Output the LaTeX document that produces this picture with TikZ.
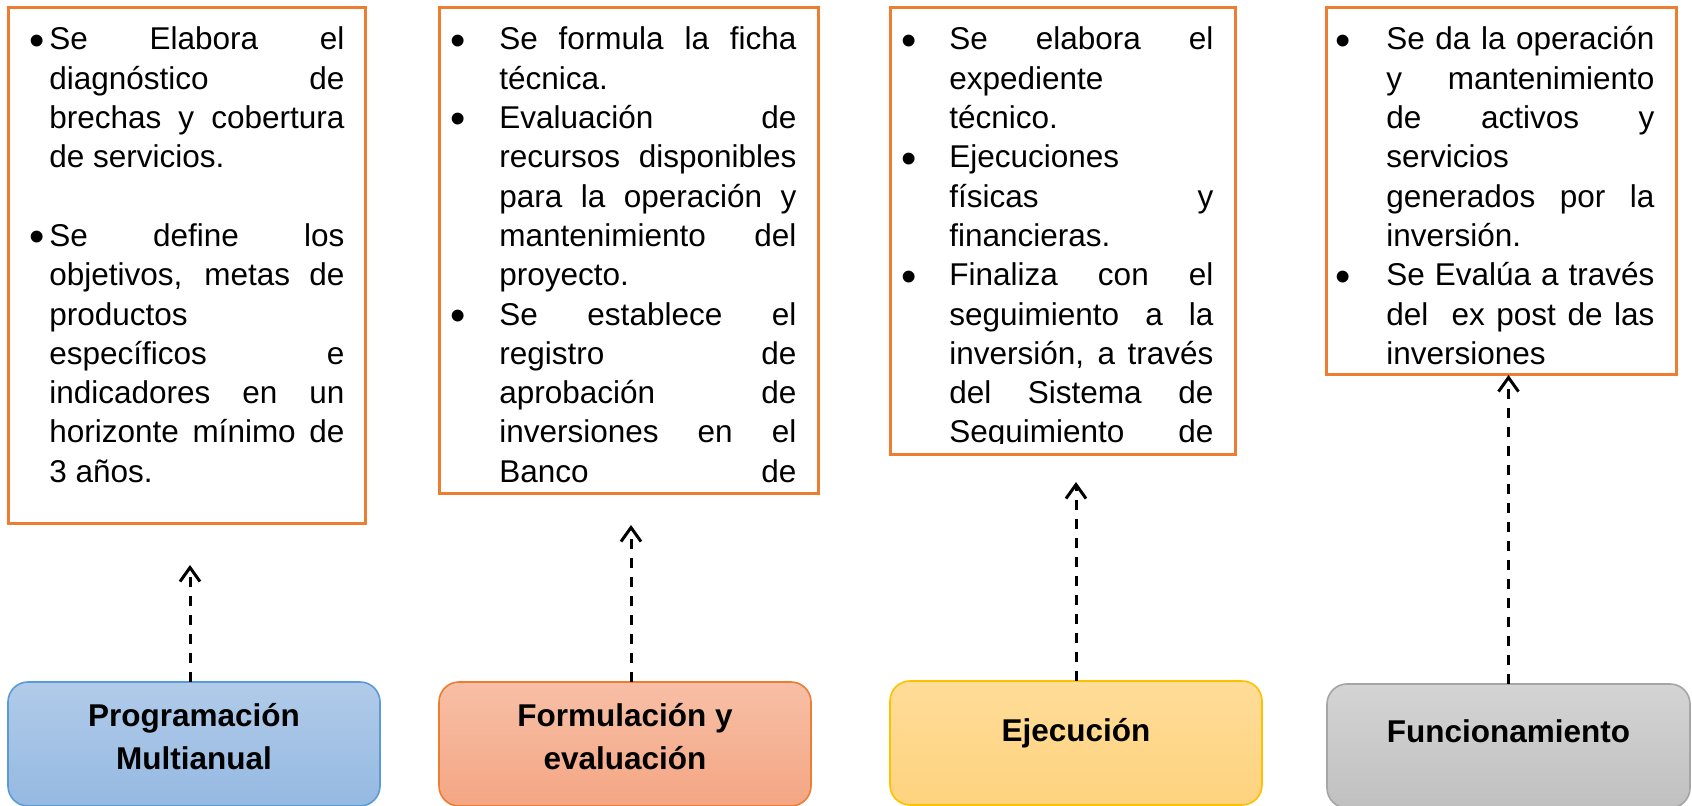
\documentclass[tikz,border=0pt]{standalone}
\usepackage{fontspec}
\setmainfont{Liberation Sans}
\usetikzlibrary{arrows.meta}
\definecolor{naranja}{HTML}{ED7D31}
\definecolor{azulA}{HTML}{B1CBE9}
\definecolor{azulB}{HTML}{95B9E2}
\definecolor{azulC}{HTML}{5B9BD5}
\definecolor{salmonA}{HTML}{F7BFA6}
\definecolor{salmonB}{HTML}{F4A683}
\definecolor{amarA}{HTML}{FFDC98}
\definecolor{amarB}{HTML}{FED37F}
\definecolor{amarC}{HTML}{FFC000}
\definecolor{grisA}{HTML}{D4D4D4}
\definecolor{grisB}{HTML}{C0C0C0}
\definecolor{grisC}{HTML}{A5A5A5}
\newcommand{\bul}{\raisebox{-2.65pt}{\fontsize{21.8pt}{0pt}\selectfont\textbullet}}
\newcommand{\vineta}[1]{\noindent\llap{\bul\hspace{#1}}}
\tolerance=10000
\hbadness=10000
\hyphenpenalty=10000

\begin{document}
\begin{tikzpicture}[x=0.5pt,y=0.5pt]
    \tikzset{caja/.style={draw=naranja, line width=1.5pt, anchor=north west, inner sep=0pt, outer sep=0pt},
        texto/.style={anchor=base west, inner sep=0pt, align=justify, font=\fontsize{15.75pt}{19.65pt}\selectfont},
        fase/.style={line width=0.8pt, rounded corners=10pt, anchor=north west, inner sep=0pt, outer sep=0pt,
            minimum width=#1, minimum height=62pt},
        fase/.default={186pt},
        etiq/.style={font=\fontsize{15.75pt}{21.5pt}\selectfont\bfseries, align=center, inner sep=0pt},
        flecha/.style={line width=1.5pt, dash pattern=on 5pt off 4.5pt, -{Straight Barb[length=7pt,width=10pt]}}}
    \useasboundingbox (0,0) rectangle (1692,806);

    %Cajas
    \node[caja, minimum width=178.5pt, minimum height=258pt] (cajaprog) at (8,798) {};
    \node[caja, minimum width=189.5pt, minimum height=243pt] (cajaform) at (439,798) {};
    \node[caja, minimum width=172.5pt, minimum height=223.5pt] (cajaejec) at (890,798) {};
    \node[caja, minimum width=175pt, minimum height=183.5pt] (cajafunc) at (1326,798) {};

    \node[texto, text width=147.5pt] (txtprog) at (49,756) {%
        \vineta{2.2pt}Se Elabora el\linebreak diagnóstico de\linebreak brechas y cobertura\linebreak de servicios.\par
        \mbox{}\par
        \vineta{2.2pt}Se define los\linebreak objetivos, metas de\linebreak productos\linebreak específicos e\linebreak indicadores en un\linebreak horizonte mínimo de\linebreak 3 años.};
    \node[texto, text width=148.5pt] (txtform) at (499,756) {%
        \vineta{16.7pt}Se formula la ficha\linebreak técnica.\par
        \vineta{16.7pt}Evaluación de\linebreak recursos disponibles\linebreak para la operación y\linebreak mantenimiento del\linebreak proyecto.\par
        \vineta{16.7pt}Se establece el\linebreak registro de\linebreak aprobación de\linebreak inversiones en el\linebreak Banco de\linebreak};
    \begin{scope}
        \clip (892,362) rectangle (1233,797);
        \node[texto, text width=132pt] (txtejec) at (949,756) {%
            \vineta{16.2pt}Se elabora el\linebreak expediente\linebreak técnico.\par
            \vineta{16.2pt}Ejecuciones\linebreak físicas y\linebreak financieras.\par
            \vineta{16.2pt}Finaliza con el\linebreak seguimiento a la\linebreak inversión, a través\linebreak del Sistema de\linebreak Seguimiento de\linebreak};
    \end{scope}
    \node[texto, text width=134pt] (txtfunc) at (1386,756) {%
        \vineta{17.7pt}Se da la operación\linebreak y mantenimiento\linebreak de activos y\linebreak servicios\linebreak generados por la\linebreak inversión.\par
        \vineta{17.7pt}Se Evalúa a través\linebreak del\ \ ex post de las\linebreak inversiones};

    %Fases
    \node[fase, draw=azulC, top color=azulA, bottom color=azulB] (prog) at (8,124) {};
    \node[fase, draw=naranja, top color=salmonA, bottom color=salmonB] (form) at (439,124) {};
    \node[fase, draw=amarC, top color=amarA, bottom color=amarB] (ejec) at (890,125) {};
    \node[fase=181.5pt, draw=grisC, top color=grisA, bottom color=grisB] (func) at (1327,122) {};

    \node[etiq] (tprog) at ([yshift=3.75pt]prog.center) {Programación\\Multianual};
    \node[etiq] (tform) at ([yshift=3.75pt]form.center) {Formulación y\\evaluación};
    \node[etiq] (tejec) at ([yshift=5pt]ejec.center) {Ejecución};
    \node[etiq] (tfunc) at ([yshift=7.25pt]func.center) {Funcionamiento};

    %Flechas
    \draw[flecha] ([xshift=-2pt]prog.north) -- ++(0,117);
    \draw[flecha] ([xshift=3pt]form.north) -- ++(0,157);
    \draw[flecha] (ejec.north) -- ++(0,199);
    \draw[flecha] (func.north) -- (func.north |- cajafunc.south);

\end{tikzpicture}
\end{document}
